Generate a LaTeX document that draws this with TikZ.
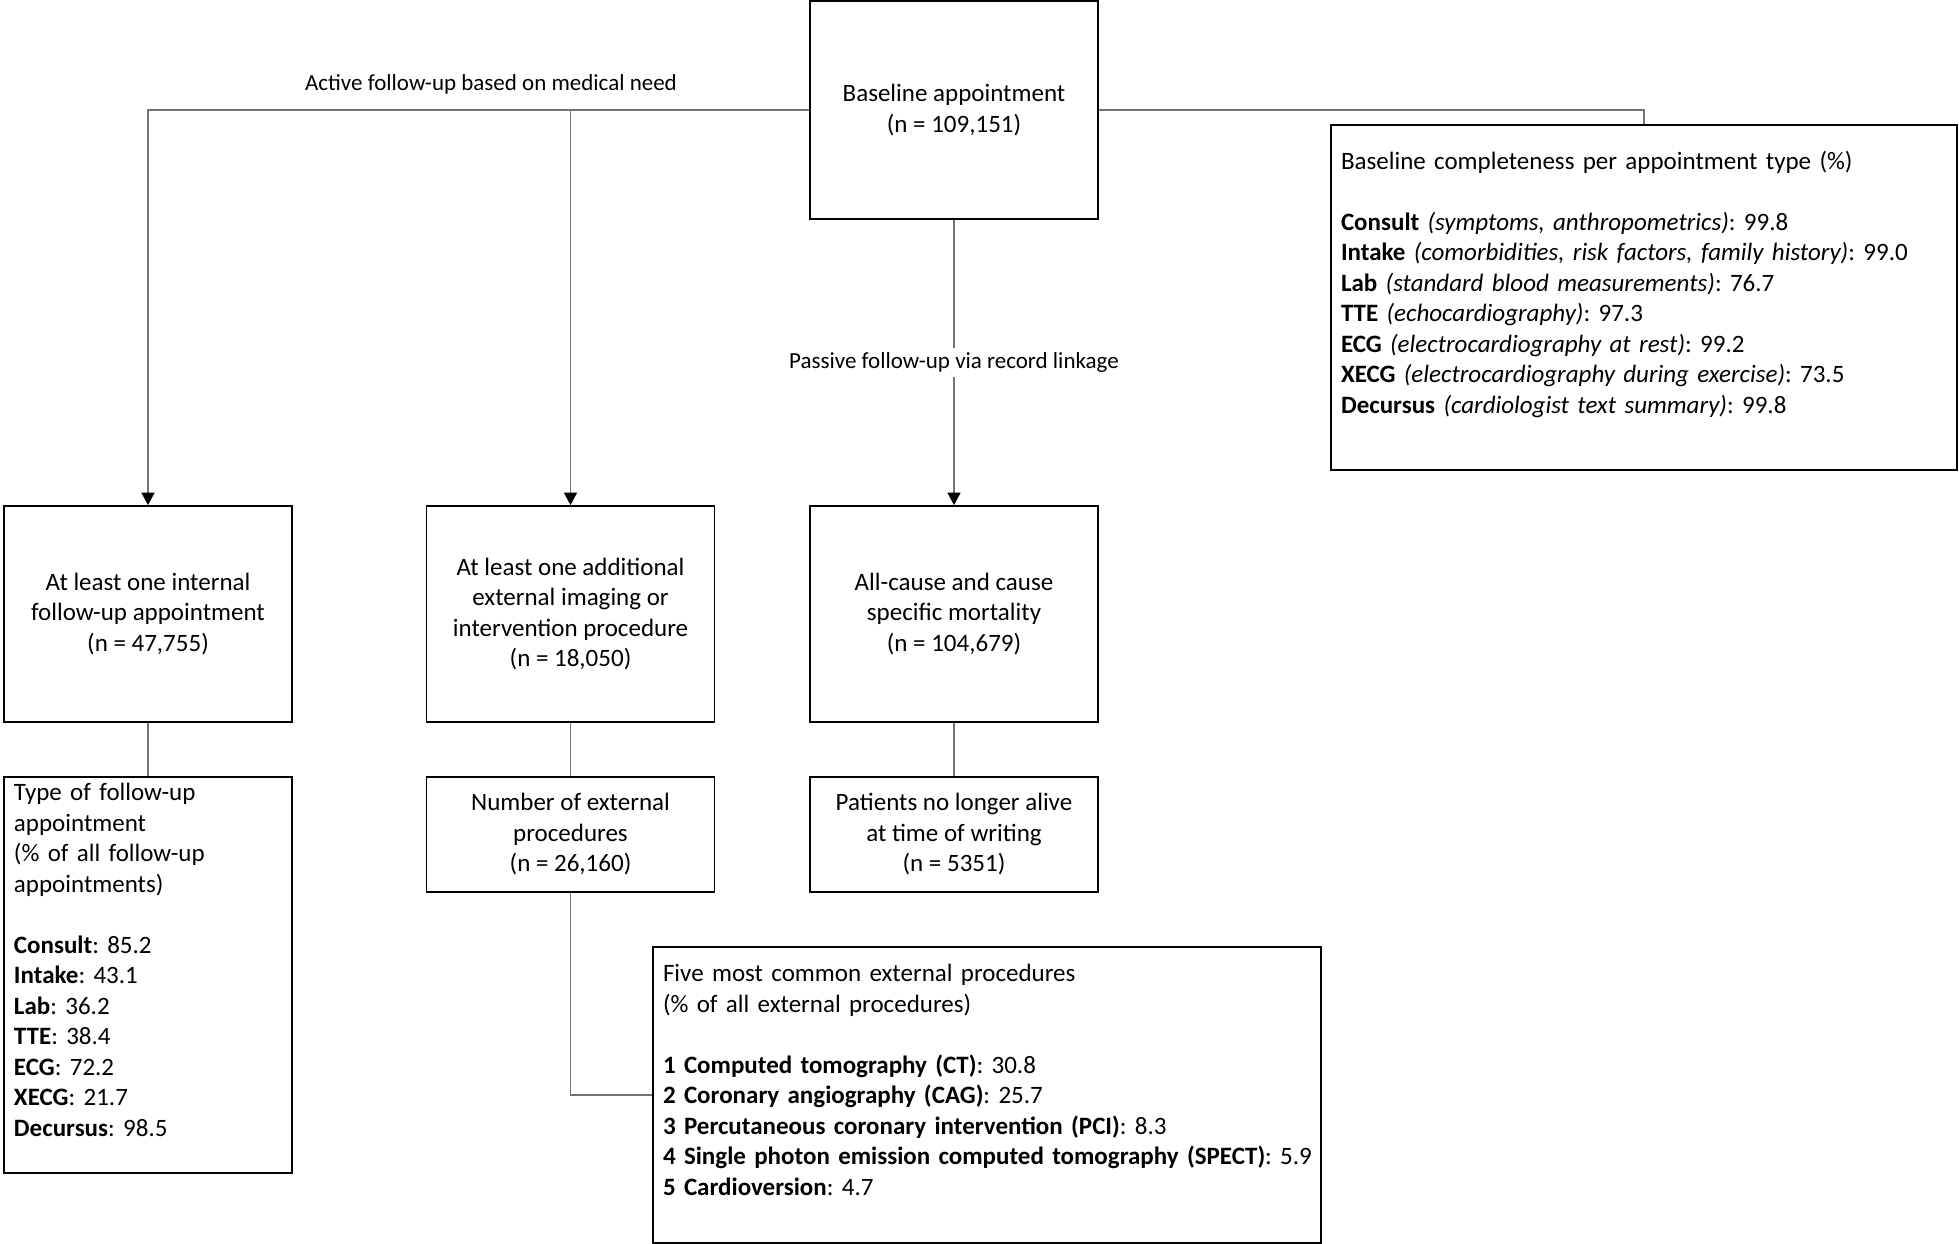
\documentclass[tikz,border=0pt]{standalone}
\usepackage{fontspec}
\setmainfont{Carlito}
\usetikzlibrary{arrows.meta}
\frenchspacing

\begin{document}
\begin{tikzpicture}[x=0.4pt, y=-0.4pt,
      every node/.append style={font=\fontsize{10pt}{12.2pt}\selectfont},
      link/.style={draw=black!55, line width=0.45pt},
      arrow/.style={link, -{Triangle[length=5pt,width=5.2pt,color=black]}},
      edgelabel/.style={font=\fontsize{9.2pt}{11pt}\selectfont}]
    \tikzstyle{box} = [draw=black, line width=0.7pt, rectangle, inner sep=0pt, align=center,
      minimum width=115.2pt]
    \tikzstyle{list} = [box, align=left, inner xsep=4pt]
    \useasboundingbox (0,0) rectangle (1959,1244);
    \node (base) [box, minimum height=87.2pt] at (954,110) {Baseline appointment\\(n = 109,151)};
    \node (internal) [box, minimum height=86.4pt] at (148,614)
      {At least one internal\\follow-up appointment\\(n = 47,755)};
    \node (external) [box, minimum height=86.4pt] at (570.5,614)
      {At least one additional\\external imaging or\\intervention procedure\\(n = 18,050)};
    \node (mortality) [box, minimum height=86.4pt] at (954,614)
      {All-cause and cause\\specific mortality\\(n = 104,679)};
    \node (types) [list, text width=107.2pt, minimum height=158.4pt] at (148,975)
      {Type of follow-up\\appointment\\(\% of all follow-up\\appointments)\\[12.2pt]
       \textbf{Consult}: 85.2\\\textbf{Intake}: 43.1\\\textbf{Lab}: 36.2\\\textbf{TTE}: 38.4\\
       \textbf{ECG}: 72.2\\\textbf{XECG}: 21.7\\\textbf{Decursus}: 98.5\\\mbox{}};
    \node (nproc) [box, minimum height=46pt] at (570.5,834.5)
      {Number of external\\procedures\\(n = 26,160)};
    \node (deceased) [box, minimum height=46pt] at (954,834.5)
      {Patients no longer alive\\at time of writing\\(n = 5351)};
    \node (common) [list, text width=259.2pt, minimum height=118.4pt] at (987,1095)
      {Five most common external procedures\\(\% of all external procedures)\\[12.2pt]
       \textbf{1 Computed tomography (CT)}: 30.8\\
       \textbf{2 Coronary angiography (CAG)}: 25.7\\
       \textbf{3 Percutaneous coronary intervention (PCI)}: 8.3\\
       \mbox{\textbf{4 Single photon emission computed tomography (SPECT)}: 5.9}\\
       \textbf{5 Cardioversion}: 4.7\\\mbox{}};
    \node (complete) [list, text width=242.4pt, minimum height=138pt] at (1644,297.5)
      {Baseline completeness per appointment type (\%)\\[12.2pt]
       \textbf{Consult} \textit{(symptoms, anthropometrics)}: 99.8\\
       \textbf{Intake} \textit{(comorbidities, risk factors, family history)}: 99.0\\
       \textbf{Lab} \textit{(standard blood measurements)}: 76.7\\
       \textbf{TTE} \textit{(echocardiography)}: 97.3\\
       \textbf{ECG} \textit{(electrocardiography at rest)}: 99.2\\
       \textbf{XECG} \textit{(electrocardiography during exercise)}: 73.5\\
       \textbf{Decursus} \textit{(cardiologist text summary)}: 99.8\\\mbox{}};
    \node (active) [edgelabel] at (491,84) {Active follow-up based on medical need};
    \draw [arrow] (base.west) -| (internal.north);
    \draw [arrow] (base.west) -| (external.north);
    \draw [arrow] (base.south) -- node [edgelabel, fill=white, inner sep=2pt] {Passive follow-up via record linkage} (mortality.north);
    \draw [link] (base.east) -| (complete.north);
    \draw [link] (internal.south) -- (types.north);
    \draw [link] (external.south) -- (nproc.north);
    \draw [link] (mortality.south) -- (deceased.north);
    \draw [link] (nproc.south) |- (common.west);
\end{tikzpicture}
\end{document}
